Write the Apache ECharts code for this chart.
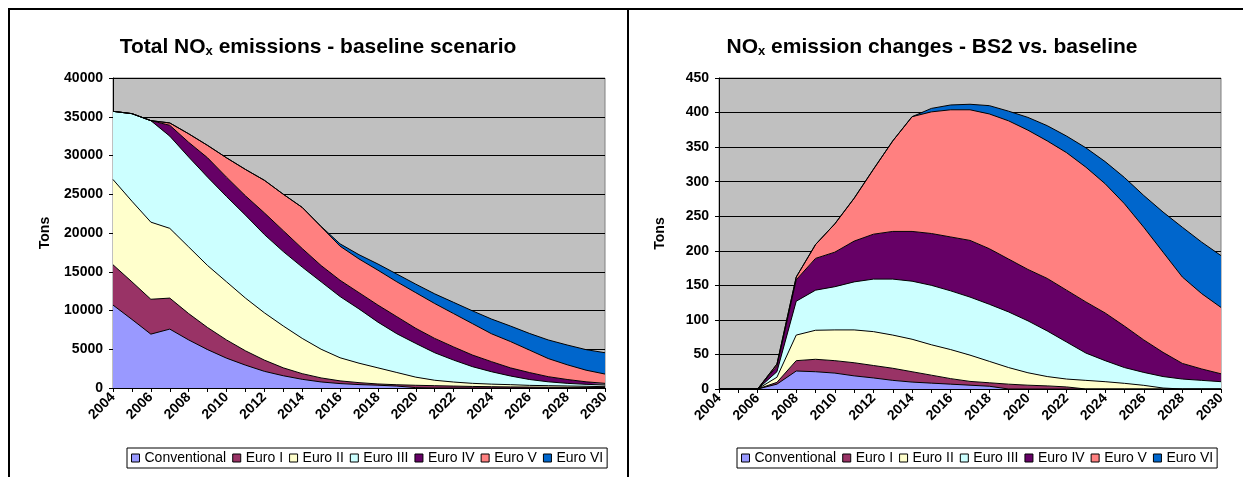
<!DOCTYPE html>
<html><head><meta charset="utf-8">
<script src="https://cdn.jsdelivr.net/npm/echarts@6/dist/echarts.min.js"></script>
<style>html,body{margin:0;padding:0;background:#fff}#c{width:1243px;height:477px}</style>
</head><body><div id="c"></div>
<script>
const years = ['2004','2005','2006','2007','2008','2009','2010','2011','2012','2013','2014','2015','2016','2017','2018','2019','2020','2021','2022','2023','2024','2025','2026','2027','2028','2029','2030'];
const seriesNames = ['Conventional','Euro I','Euro II','Euro III','Euro IV','Euro V','Euro VI'];
const seriesColors = ['#9999FF','#993366','#FFFFCC','#CCFFFF','#660066','#FF8080','#0066CC'];

// Left chart: Total NOx emissions - baseline scenario (tons)
const baseConventional = [10700,8850,6950,7600,6200,4950,3850,2950,2150,1580,1120,780,570,440,360,250,50,0,0,0,0,0,0,0,0,0,0];
const baseEuroI   = [5200,4850,4500,4000,3400,2850,2350,1850,1450,1020,730,520,350,250,160,170,300,300,250,200,170,140,120,100,90,80,70];
const baseEuroII  = [11000,10400,9950,9000,8600,8000,7500,6800,6100,5400,4550,3700,2980,2510,2080,1580,1050,700,520,400,330,290,220,200,170,140,100];
const baseEuroIII = [8800,11300,13100,11900,11600,11400,11000,10700,10100,9600,9200,8700,7900,7000,5900,5000,4350,3550,2830,2150,1600,1120,760,500,340,250,230];
const baseEuroIV  = [0,0,0,1400,1900,2500,2500,2500,2800,2700,2400,2100,2100,2100,2200,2200,1950,1850,1700,1500,1300,1050,900,660,500,330,200];
const baseEuroV   = [0,0,0,300,1100,1600,2500,3400,4200,4700,5300,5000,4400,4350,4500,4500,4600,4500,4300,4050,3600,3400,2900,2340,1900,1500,1200];
const baseEuroVI  = [0,0,0,0,0,0,0,0,0,0,0,50,300,550,800,1000,1100,1250,1450,1650,1900,2000,2150,2400,2550,2650,2750];

// Right chart: NOx emission changes - BS2 vs. baseline (tons)
const chgConventional = [0,0,0,7,26,25,23,19,16,12.5,10,8.5,7,5.5,4,0,0,0,0,0,0,0,0,0,0,0,0];
const chgEuroI   = [0,0,0,2.6,15,18,18,19,18,17.5,15,11.5,8,5.5,5,7,5.5,4.5,3,0,0,0,0,0,0,0,0];
const chgEuroII  = [0,0,0,7.4,37,42,44.5,47.5,49,48,47,44,42,38,31,24,18,13.5,11.4,12.5,10.6,8.2,5.3,1.4,0,0,0];
const chgEuroIII = [0,0,0,8,49,58,62.5,69.5,76,81,84,86,85,84,82.6,80.5,75.1,66,53.6,39.5,30.4,22.8,18.7,16.6,14.4,12.5,10.6];
const chgEuroIV  = [0,0,0,8,31,46,50,59,65,69,72,75,78,82,80.4,76.5,74.4,76,75,74,69,60,47,35,22.6,16.5,11.4];
const chgEuroV   = [0,0,0,3,4,20,41,62,94,131,166,176,184,189,195,200,201.5,199,199,195,187,177,163,145,125,109,96];
const chgEuroVI  = [0,0,0,0,0,0,0,0,0,0,0,5,7,8,12,14,18.5,22,24,28,32,38,46,58,72,74.5,75];

const baseData = [baseConventional,baseEuroI,baseEuroII,baseEuroIII,baseEuroIV,baseEuroV,baseEuroVI];
const chgData = [chgConventional,chgEuroI,chgEuroII,chgEuroIII,chgEuroIV,chgEuroV,chgEuroVI];

const FONT = 'Liberation Sans, Arial, sans-serif';

function makeSeries(dataArr, idx, stack) {
  return dataArr.map((d, i) => ({
    name: seriesNames[i], type: 'line', stack: stack,
    xAxisIndex: idx, yAxisIndex: idx, data: d,
    symbol: 'none', smooth: false,
    lineStyle: { color: '#000', width: 1 },
    itemStyle: { color: seriesColors[i] },
    areaStyle: { color: seriesColors[i], opacity: 1 },
    emphasis: { disabled: true }, silent: true, animation: false
  }));
}

function xAxisOf(idx) {
  return {
    gridIndex: idx, type: 'category', data: years, boundaryGap: false,
    axisLine: { lineStyle: { color: '#000', width: 1 } },
    axisTick: { show: true, interval: 0, length: 4, lineStyle: { color: '#000' } },
    axisLabel: { interval: 1, rotate: 45, fontWeight: 'bold', fontSize: 14, color: '#000', fontFamily: FONT, margin: 7 },
    splitLine: { show: false }
  };
}
function yAxisOf(idx, max, interval, gap) {
  return {
    gridIndex: idx, type: 'value', min: 0, max: max, interval: interval,
    axisLine: { show: true, lineStyle: { color: '#000', width: 1 } },
    axisTick: { show: true, length: 4, lineStyle: { color: '#000' } },
    axisLabel: { fontWeight: 'bold', fontSize: 14, color: '#000', fontFamily: FONT, margin: 10, formatter: v => String(v) },
    splitLine: { show: true, lineStyle: { color: '#000', width: 1 } },
    name: 'Tons', nameLocation: 'middle', nameGap: gap,
    nameTextStyle: { fontWeight: 'bold', fontSize: 14, color: '#000', fontFamily: FONT }
  };
}
function legendOf(left) {
  return {
    left: left, top: 448, orient: 'horizontal', icon: 'rect',
    itemWidth: 8, itemHeight: 8, itemGap: 6, selectedMode: false,
    borderColor: '#000', borderWidth: 1, padding: [3, 4, 3, 4],
    itemStyle: { borderColor: '#000', borderWidth: 1 },
    textStyle: { fontSize: 14, color: '#000', fontFamily: FONT },
    data: seriesNames
  };
}
function titleText(x, parts) {
  return {
    type: 'text', x: x, y: 45, silent: true,
    style: {
      text: parts, align: 'center', verticalAlign: 'middle',
      rich: {
        a: { fontSize: 21, fontWeight: 'bold', fontFamily: FONT, fill: '#000', lineHeight: 26, verticalAlign: 'bottom' },
        s: { fontSize: 13, fontWeight: 'bold', fontFamily: FONT, fill: '#000', lineHeight: 13, verticalAlign: 'bottom' }
      }
    }
  };
}

const chart = echarts.init(document.getElementById('c'), null, { renderer: 'canvas' });
chart.setOption({
  animation: false,
  backgroundColor: '#fff',
  grid: [
    { left: 113, top: 78, width: 492, height: 310, show: true, backgroundColor: '#C0C0C0', borderColor: '#808080', borderWidth: 1 },
    { left: 719, top: 78, width: 502, height: 311, show: true, backgroundColor: '#C0C0C0', borderColor: '#808080', borderWidth: 1 }
  ],
  xAxis: [xAxisOf(0), xAxisOf(1)],
  yAxis: [yAxisOf(0, 40000, 5000, 61), yAxisOf(1, 450, 50, 52)],
  legend: [legendOf(127), legendOf(737)],
  series: makeSeries(baseData, 0, 'base').concat(makeSeries(chgData, 1, 'chg')),
  graphic: [
    titleText(318, '{a|Total NO}{s|x}{a| emissions - baseline scenario}'),
    titleText(932, '{a|NO}{s|x}{a| emission changes - BS2 vs. baseline}'),
    { type: 'line', silent: true, shape: { x1: 8, y1: 9, x2: 1243, y2: 9 }, style: { stroke: '#000', lineWidth: 2 } },
    { type: 'line', silent: true, shape: { x1: 9, y1: 8, x2: 9, y2: 477 }, style: { stroke: '#000', lineWidth: 2 } },
    { type: 'line', silent: true, shape: { x1: 628, y1: 8, x2: 628, y2: 477 }, style: { stroke: '#000', lineWidth: 2 } }
  ]
});
</script>
</body></html>
